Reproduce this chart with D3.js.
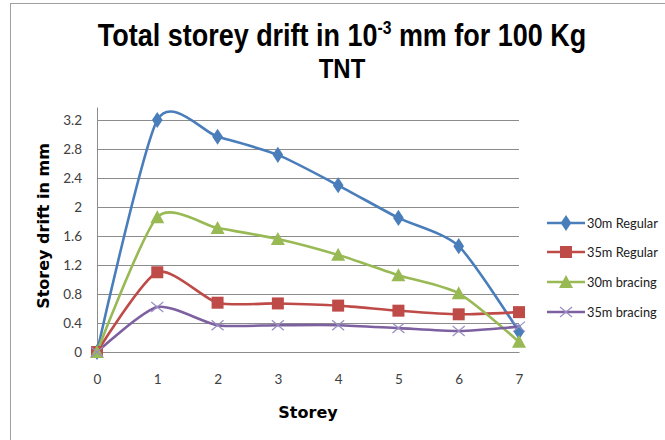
<!DOCTYPE html>
<html><head><meta charset="utf-8">
<script src="https://cdn.jsdelivr.net/npm/d3@7"></script>
<style>body{margin:0;background:#fff}svg{display:block}</style>
</head><body>
<svg id="c" width="665" height="440"></svg>
<script>
const storeys = [0,1,2,3,4,5,6,7];
const xTicks = [0,1,2,3,4,5,6,7];
const yTicks = [0,0.4,0.8,1.2,1.6,2,2.4,2.8,3.2];
const yTickLabels = ["0","0.4","0.8","1.2","1.6","2","2.4","2.8","3.2"];
const seriesNames = ["30m Regular","35m Regular","30m bracing","35m bracing"];
const regular30 = [0,3.20,2.97,2.72,2.30,1.85,1.46,0.28];
const regular35 = [0,1.10,0.68,0.67,0.64,0.57,0.52,0.55];
const bracing30 = [0,1.86,1.71,1.56,1.34,1.06,0.81,0.14];
const bracing35 = [0,0.62,0.37,0.37,0.37,0.33,0.29,0.35];
const colors = ["#4A7EBB","#BE4B48","#98B954","#7D60A0"];
const markers = ["diamond","square","triangle","cross"];

const svg = d3.select("#c");
// frame
svg.append("rect").attr("x",10.5).attr("y",3.5).attr("width",700).attr("height",500)
  .attr("fill","none").attr("stroke","#a0a0a0").attr("stroke-width",1);

const x = d3.scaleLinear().domain([0,7]).range([97,519]);
const y = d3.scaleLinear().domain([0,3.38]).range([352,107]);

// gridlines
svg.append("g").selectAll("line").data(yTicks.slice(1)).join("line")
  .attr("x1",97).attr("x2",519).attr("y1",d=>Math.round(y(d))+0.5).attr("y2",d=>Math.round(y(d))+0.5)
  .attr("stroke","#8c8c8c").attr("stroke-width",1);

// axes
const yAxis = d3.axisLeft(y).tickValues(yTicks).tickFormat((d,i)=>yTickLabels[i]).tickSize(0).tickPadding(15);
const gy = svg.append("g").attr("transform","translate(97,0)").call(yAxis);
gy.select(".domain").attr("stroke","#8c8c8c");
gy.selectAll("text").attr("font-family","Lato, 'Open Sans', sans-serif").attr("font-size",13.5).attr("fill","#404040");

const xAxis = d3.axisBottom(x).tickValues(xTicks).tickFormat(d3.format("d")).tickSize(0).tickPadding(22);
const gx = svg.append("g").attr("transform","translate(0,352)").call(xAxis);
gx.select(".domain").attr("stroke","#8c8c8c");
gx.selectAll("text").attr("font-family","Lato, 'Open Sans', sans-serif").attr("font-size",13.5).attr("fill","#404040");

// title (condensed)
const title = svg.append("text").attr("transform","translate(342,46) scale(0.87,1)").attr("text-anchor","middle")
  .attr("font-family","'Liberation Sans', Arial, sans-serif").attr("font-weight","bold").attr("font-size",31).attr("fill","#000");
title.append("tspan").text("Total storey drift in 10");
title.append("tspan").attr("font-size",18).attr("dy",-12).text("-3");
title.append("tspan").attr("dy",12).text(" mm for 100 Kg");
svg.append("text").attr("transform","translate(342,78) scale(0.87,1)").attr("text-anchor","middle")
  .attr("font-family","'Liberation Sans', Arial, sans-serif").attr("font-weight","bold").attr("font-size",27.5).text("TNT");

// axis titles
svg.append("text").attr("transform","translate(49,226) rotate(-90)").attr("text-anchor","middle")
  .attr("font-family","'DejaVu Sans', Verdana, sans-serif").attr("font-weight","bold").attr("font-size",16).text("Storey drift in mm");
svg.append("text").attr("x",308).attr("y",418).attr("text-anchor","middle")
  .attr("font-family","'DejaVu Sans', Verdana, sans-serif").attr("font-weight","bold").attr("font-size",16).text("Storey");

// lines
const allSeries = [regular30, regular35, bracing30, bracing35];
const line = d3.line().x((d,i)=>x(storeys[i])).y(d=>y(d)).curve(d3.curveCardinal.tension(0.3));

function marker(g, type, color, cx, cy){
  if(type==="diamond"){
    g.append("path").attr("d",d3.symbol(d3.symbolDiamond,75)()).attr("transform",`translate(${cx},${cy}) scale(1.15,1)`).attr("fill",color);
  } else if(type==="square"){
    g.append("rect").attr("x",cx-6).attr("y",cy-6).attr("width",12).attr("height",12).attr("fill",color);
  } else if(type==="triangle"){
    g.append("path").attr("d",`M${cx},${cy-7}L${cx+7},${cy+6}L${cx-7},${cy+6}Z`).attr("fill",color);
  } else {
    g.append("path").attr("d",`M${cx-6},${cy-5}L${cx+6},${cy+5}M${cx-6},${cy+5}L${cx+6},${cy-5}`).attr("stroke","#9a8ec0").attr("stroke-width",1.2).attr("fill","none");
  }
}

allSeries.forEach((s,k)=>{
  svg.append("path").datum(s).attr("d",line).attr("fill","none").attr("stroke",colors[k]).attr("stroke-width",2.6);
});
allSeries.forEach((s,k)=>{
  const g = svg.append("g");
  s.forEach((v,i)=>marker(g, markers[k], colors[k], x(storeys[i]), y(v)));
});

// legend
const legY = [223,252,282,312];
seriesNames.forEach((n,k)=>{
  const g = svg.append("g");
  g.append("line").attr("x1",547).attr("x2",585).attr("y1",legY[k]).attr("y2",legY[k]).attr("stroke",colors[k]).attr("stroke-width",2.6);
  marker(g, markers[k], colors[k], 566, legY[k]);
  g.append("text").attr("x",587).attr("y",legY[k]+4.5).attr("font-family","Lato, 'Open Sans', sans-serif").attr("font-size",12.8).attr("fill","#202020").text(n);
});
</script>
</body></html>
